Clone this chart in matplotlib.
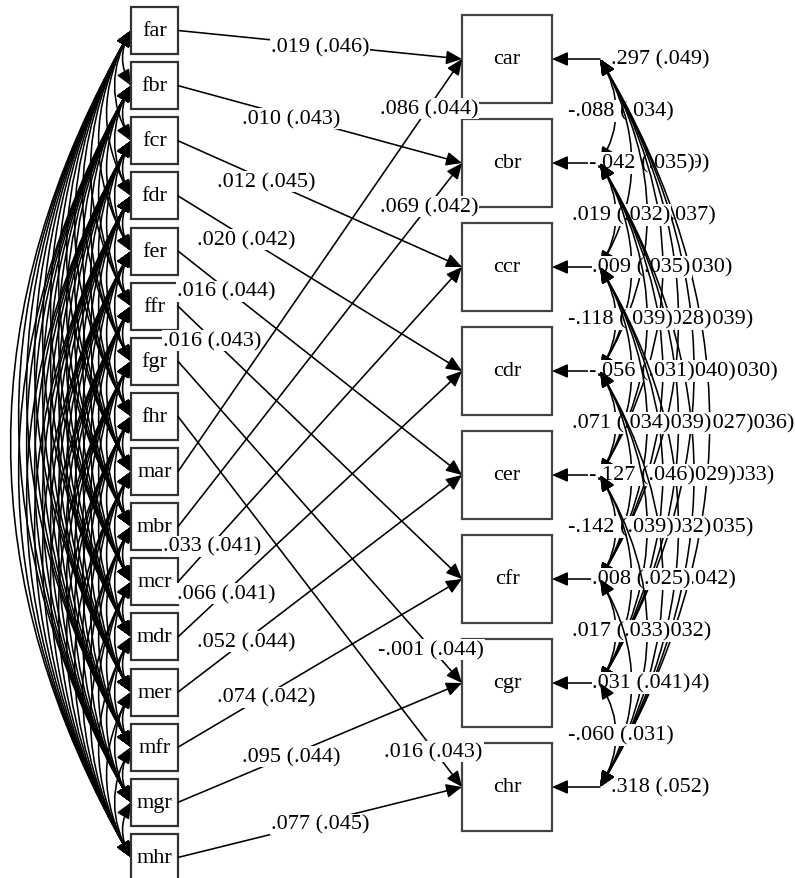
import matplotlib
matplotlib.use("Agg")
import matplotlib.pyplot as plt
from matplotlib.patches import FancyArrowPatch, Rectangle

# ---------------- data ----------------
exog = ["far", "fbr", "fcr", "fdr", "fer", "ffr", "fgr", "fhr",
        "mar", "mbr", "mcr", "mdr", "mer", "mfr", "mgr", "mhr"]
endog = ["car", "cbr", "ccr", "cdr", "cer", "cfr", "cgr", "chr"]

# regressions c*r ~ f*r
f_est = [0.019, 0.010, 0.012, 0.020, 0.016, 0.016, -0.001, 0.016]
f_se = [0.046, 0.043, 0.045, 0.042, 0.044, 0.043, 0.044, 0.043]
# regressions c*r ~ m*r
m_est = [0.086, 0.069, 0.033, 0.066, 0.052, 0.074, 0.095, 0.077]
m_se = [0.044, 0.042, 0.041, 0.041, 0.044, 0.042, 0.044, 0.045]

# residual variances of c*r
res_var = [0.297, 0.305, 0.288, 0.341, 0.366, 0.212, 0.271, 0.318]
res_var_se = [0.049, 0.049, 0.047, 0.055, 0.060, 0.036, 0.044, 0.052]

# residual covariances, pairs in order (0,1),(0,2),...,(0,7),(1,2),...,(6,7)
res_cov = [-0.088, -0.042, -0.021, 0.012, 0.035, -0.018, 0.044,
           0.019, 0.009, 0.025, -0.031, 0.014, 0.027,
           -0.118, -0.056, 0.048, -0.006, 0.022,
           0.071, -0.127, 0.039, -0.015,
           -0.142, 0.008, 0.030,
           0.017, 0.031,
           -0.060]
res_cov_se = [0.034, 0.035, 0.037, 0.030, 0.039, 0.030, 0.036,
              0.032, 0.035, 0.028, 0.040, 0.027, 0.033,
              0.039, 0.031, 0.039, 0.029, 0.035,
              0.034, 0.046, 0.032, 0.042,
              0.039, 0.025, 0.032,
              0.033, 0.041,
              0.031]

# label position along each regression path (fraction from source)
f_lab_t = [0.5, 0.4, 0.31, 0.24, 0.17, 0.12, 0.89, 0.9]
m_lab_t = [0.885, 0.885, 0.12, 0.17, 0.24, 0.31, 0.4, 0.5]

# ---------------- layout ----------------
W, H = 795, 879
fig = plt.figure(figsize=(W / 100, H / 100), dpi=100)
ax = fig.add_axes([0, 0, 1, 1])
ax.set_xlim(0, W)
ax.set_ylim(H, 0)
ax.axis("off")

FONT = dict(family="Liberation Serif", size=16, color="black")
BBOX = dict(boxstyle="square,pad=0.04", fc="white", ec="none")
LW = 1.15

LX0, LX1, LBH = 131, 178, 47
RX0, RX1, RBH = 462, 552, 88
RP = 600      # residual point x
VX = 660      # residual-variance label x


def ly(i):
    return 31.5 + i * 55.13


def ry(i):
    return 60 + i * 104


def fmt(v):
    return f"{v:.3f}".replace("0.", ".", 1)


def lab(v, s):
    return f"{fmt(v)} ({fmt(s)})"


HEAD = "head_length=0.95,head_width=0.42"
z = [1]


def nz():
    z[0] += 1
    return z[0]


# exogenous covariances (left arcs)
n = len(exog)
for i in range(n):
    for j in range(i + 1, n):
        a = FancyArrowPatch((LX0, ly(i)), (LX0, ly(j)),
                            connectionstyle="arc3,rad=0.29",
                            arrowstyle="<|-|>," + HEAD, mutation_scale=10,
                            lw=LW, color="black", shrinkA=0, shrinkB=0,
                            zorder=1)
        ax.add_patch(a)

# boxes
for i, name in enumerate(exog):
    ax.add_patch(Rectangle((LX0, ly(i) - LBH / 2), LX1 - LX0, LBH,
                           fc="white", ec="#333333", lw=1.6, zorder=2))
    ax.text((LX0 + LX1) / 2, ly(i), name, ha="center", va="center",
            zorder=3, **FONT)
for i, name in enumerate(endog):
    ax.add_patch(Rectangle((RX0, ry(i) - RBH / 2), RX1 - RX0, RBH,
                           fc="white", ec="#444444", lw=1.6, zorder=2))
    ax.text((RX0 + RX1) / 2, ry(i), name, ha="center", va="center",
            zorder=3, **FONT)
z[0] = 4

# regressions
for group, est, se, tt in (("f", f_est, f_se, f_lab_t),
                           ("m", m_est, m_se, m_lab_t)):
    for k in range(len(endog)):
        src = k if group == "f" else k + 8
        x0, y0 = LX1, ly(src)
        x1, y1 = RX0, ry(k)
        a = FancyArrowPatch((x0, y0), (x1, y1), arrowstyle="-|>," + HEAD,
                            mutation_scale=10, lw=LW, color="black",
                            shrinkA=0, shrinkB=0, zorder=nz())
        ax.add_patch(a)
        t = tt[k]
        ax.text(x0 + t * (x1 - x0), y0 + t * (y1 - y0) + 2, lab(est[k], se[k]),
                ha="center", va="center", bbox=BBOX, zorder=nz(), **FONT)

# residual variances
for i in range(len(endog)):
    a = FancyArrowPatch((RP, ry(i)), (RX1, ry(i)), arrowstyle="-|>," + HEAD,
                        mutation_scale=10, lw=LW, color="black",
                        shrinkA=0, shrinkB=0, zorder=nz())
    ax.add_patch(a)
    ax.text(VX, ry(i), lab(res_var[i], res_var_se[i]), ha="center",
            va="center", bbox=BBOX, zorder=nz(), **FONT)

# residual covariances (right arcs)
k = 0
m = len(endog)
for i in range(m):
    for j in range(i + 1, m):
        a = FancyArrowPatch((RP, ry(i)), (RP, ry(j)),
                            connectionstyle="arc3,rad=-0.3",
                            arrowstyle="<|-|>," + HEAD, mutation_scale=10,
                            lw=LW, color="black", shrinkA=0, shrinkB=0,
                            zorder=nz())
        ax.add_patch(a)
        d = ry(j) - ry(i)
        ax.text(RP + 0.2 * d, (ry(i) + ry(j)) / 2, lab(res_cov[k], res_cov_se[k]),
                ha="center", va="center", bbox=BBOX, zorder=nz(), **FONT)
        k += 1

fig.savefig("out.png", dpi=100)
